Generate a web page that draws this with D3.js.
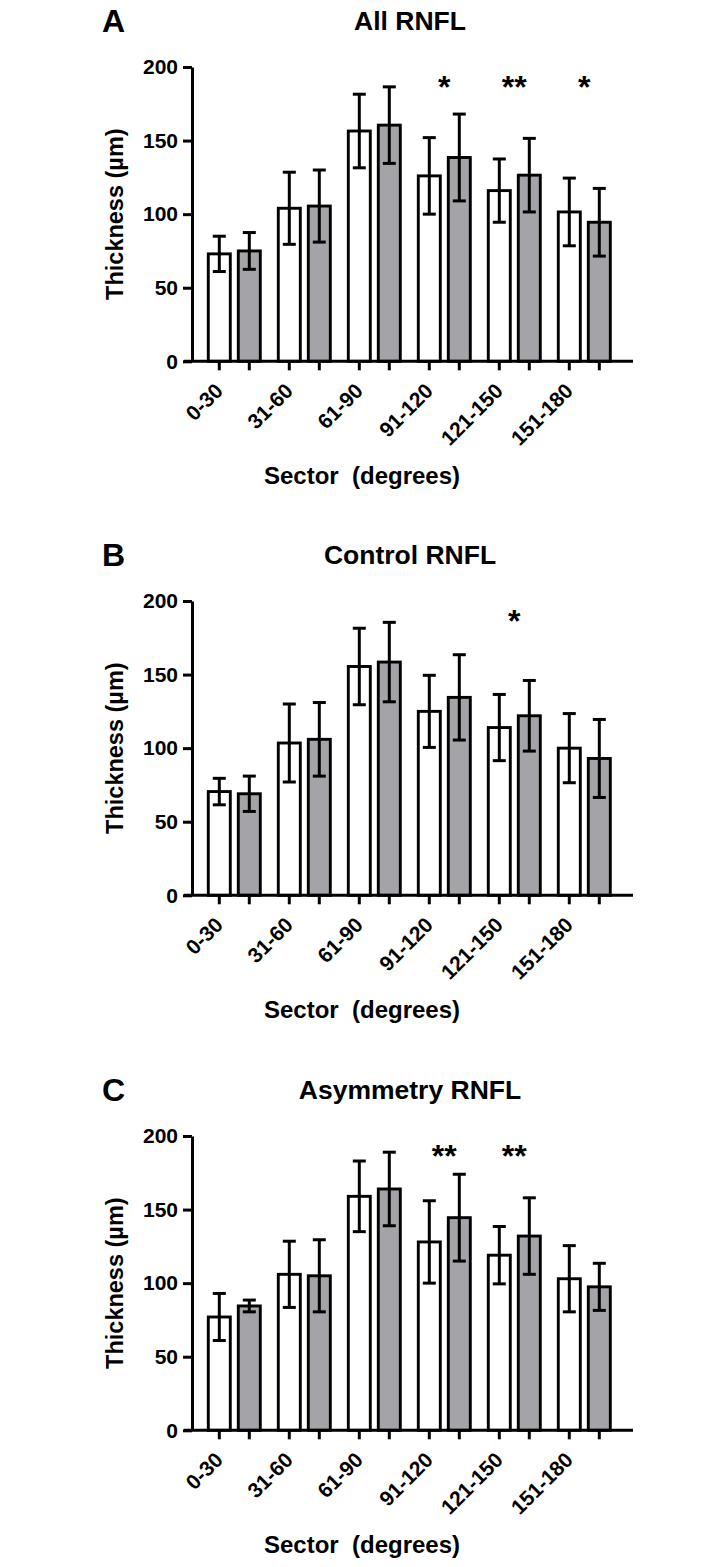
<!DOCTYPE html>
<html>
<head>
<meta charset="utf-8">
<script src="https://cdn.jsdelivr.net/npm/d3@7"></script>
<style>
  html, body { margin: 0; padding: 0; background: #ffffff; }
  svg { display: block; }
  text { font-family: "Liberation Sans", Arial, Helvetica, sans-serif; font-weight: bold; fill: #000; }
</style>
</head>
<body>
<div id="chart"></div>
<script>
// ---------- data ----------
const categories = ["0-30", "31-60", "61-90", "91-120", "121-150", "151-180"];
const yTicks = [0, 50, 100, 150, 200];

// Panel A: All RNFL
const allMeanWhite = [73, 104, 156.5, 126, 116, 101.5];
const allSdWhite   = [12, 24.5, 25, 26, 21.5, 23];
const allMeanGray  = [75, 105.5, 160.5, 138.5, 126.5, 94.5];
const allSdGray    = [12.5, 24.5, 26, 29.5, 25, 23];
const allStars     = [["91-120", "*"], ["121-150", "**"], ["151-180", "*"]];

// Panel B: Control RNFL
const ctrlMeanWhite = [70.5, 103.5, 155.5, 125, 114, 100];
const ctrlSdWhite   = [9, 26.5, 26, 24.5, 22.5, 23.5];
const ctrlMeanGray  = [69, 106, 158.5, 134.5, 122, 93];
const ctrlSdGray    = [12, 25, 27, 29, 24, 26.5];
const ctrlStars     = [["121-150", "*"]];

// Panel C: Asymmetry RNFL
const asymMeanWhite = [77, 106, 159, 128, 119, 103];
const asymSdWhite   = [16, 22.5, 24, 28, 19.5, 22.5];
const asymMeanGray  = [84.5, 105, 164, 144.5, 132, 97.5];
const asymSdGray    = [4, 24.5, 25, 29.5, 26, 16];
const asymStars     = [["91-120", "**"], ["121-150", "**"]];

const starLevel = 190;

// ---------- layout ----------
const W = 726, H = 1567;
const panels = [
  { letter: "A", title: "All RNFL", mw: allMeanWhite, sw: allSdWhite, mg: allMeanGray, sg: allSdGray, stars: allStars, dy: 0 },
  { letter: "B", title: "Control RNFL", mw: ctrlMeanWhite, sw: ctrlSdWhite, mg: ctrlMeanGray, sg: ctrlSdGray, stars: ctrlStars, dy: 534 },
  { letter: "C", title: "Asymmetry RNFL", mw: asymMeanWhite, sw: asymSdWhite, mg: asymMeanGray, sg: asymSdGray, stars: asymStars, dy: 1069 }
];

const axisX = 192, axisRight = 633, axisLeftExt = 184;
const y = d3.scaleLinear().domain([0, 200]).range([361.3, 67]);
const x0 = d3.scaleBand().domain(categories).range([199.3, 619.3]).padding(0);
const x1 = d3.scaleBand().domain(["white", "gray"]).range([5, 65]).padding(0);
const barW = 22;
const capW = 13;
const fills = { white: "#ffffff", gray: "#a4a4a8" };

const svg = d3.select("#chart").append("svg")
  .attr("width", W).attr("height", H)
  .attr("viewBox", `0 0 ${W} ${H}`);

panels.forEach(p => {
  const g = svg.append("g").attr("transform", `translate(0,${p.dy})`);

  // panel letter & title
  g.append("text").attr("x", 102).attr("y", 32).attr("font-size", 32).text(p.letter);
  g.append("text").attr("x", 410).attr("y", 30).attr("text-anchor", "middle")
    .attr("font-size", 26.5).text(p.title);

  // data rows
  const rows = [];
  categories.forEach((c, i) => {
    rows.push({ cat: c, s: "white", m: p.mw[i], sd: p.sw[i] });
    rows.push({ cat: c, s: "gray", m: p.mg[i], sd: p.sg[i] });
  });
  const cx = d => x0(d.cat) + x1(d.s) + x1.bandwidth() / 2;

  // bars
  g.selectAll("rect.bar").data(rows).join("rect")
    .attr("class", "bar")
    .attr("x", d => cx(d) - barW / 2)
    .attr("width", barW)
    .attr("y", d => y(d.m))
    .attr("height", d => y(0) - y(d.m))
    .attr("fill", d => fills[d.s])
    .attr("stroke", "#000")
    .attr("stroke-width", 2.9);

  // error bars
  const eb = g.selectAll("g.eb").data(rows).join("g").attr("class", "eb")
    .attr("stroke", "#000").attr("stroke-width", 3);
  eb.append("line")
    .attr("x1", cx).attr("x2", cx)
    .attr("y1", d => y(d.m + d.sd)).attr("y2", d => y(d.m - d.sd));
  eb.append("line")
    .attr("x1", d => cx(d) - capW / 2).attr("x2", d => cx(d) + capW / 2)
    .attr("y1", d => y(d.m + d.sd)).attr("y2", d => y(d.m + d.sd));
  eb.append("line")
    .attr("x1", d => cx(d) - capW / 2).attr("x2", d => cx(d) + capW / 2)
    .attr("y1", d => y(d.m - d.sd)).attr("y2", d => y(d.m - d.sd));

  // y axis
  const ya = g.append("g").attr("transform", `translate(${axisX},0)`)
    .call(d3.axisLeft(y).tickValues(yTicks).tickSize(9).tickSizeOuter(0).tickPadding(5));
  ya.select(".domain").attr("stroke-width", 3).attr("stroke", "#000");
  ya.selectAll(".tick line").attr("stroke-width", 3).attr("stroke", "#000");
  ya.selectAll(".tick text").attr("font-size", 21)
    .attr("font-family", '"Liberation Sans", Arial, sans-serif').attr("font-weight", "bold").attr("fill", "#000");

  // x axis line
  g.append("line").attr("x1", axisLeftExt).attr("x2", axisRight)
    .attr("y1", y(0)).attr("y2", y(0))
    .attr("stroke", "#000").attr("stroke-width", 3);
  // x ticks at each bar
  g.selectAll("line.xt").data(rows).join("line").attr("class", "xt")
    .attr("x1", cx).attr("x2", cx)
    .attr("y1", y(0)).attr("y2", y(0) + 9)
    .attr("stroke", "#000").attr("stroke-width", 3);
  // x tick labels
  g.selectAll("text.xl").data(categories).join("text").attr("class", "xl")
    .attr("text-anchor", "end")
    .attr("font-size", 21)
    .attr("transform", c => `translate(${x0(c) + x1("white") + x1.bandwidth() / 2 + 5},${y(0) + 31}) rotate(-45)`)
    .text(c => c);

  // significance stars
  g.selectAll("text.star").data(p.stars).join("text").attr("class", "star")
    .attr("text-anchor", "middle")
    .attr("font-size", 32)
    .attr("x", d => x0(d[0]) + x0.bandwidth() / 2)
    .attr("y", y(starLevel))
    .attr("dy", "0.5em")
    .text(d => d[1]);

  // axis titles
  g.append("text").attr("text-anchor", "middle").attr("font-size", 23.5)
    .attr("transform", `translate(123,${(y(0) + y(200)) / 2}) rotate(-90)`)
    .text("Thickness (\u00B5m)");
  g.append("text").attr("text-anchor", "middle").attr("font-size", 24)
    .attr("x", 362).attr("y", 484)
    .attr("xml:space", "preserve")
    .style("white-space", "pre")
    .text("Sector  (degrees)");
});
</script>
</body>
</html>
